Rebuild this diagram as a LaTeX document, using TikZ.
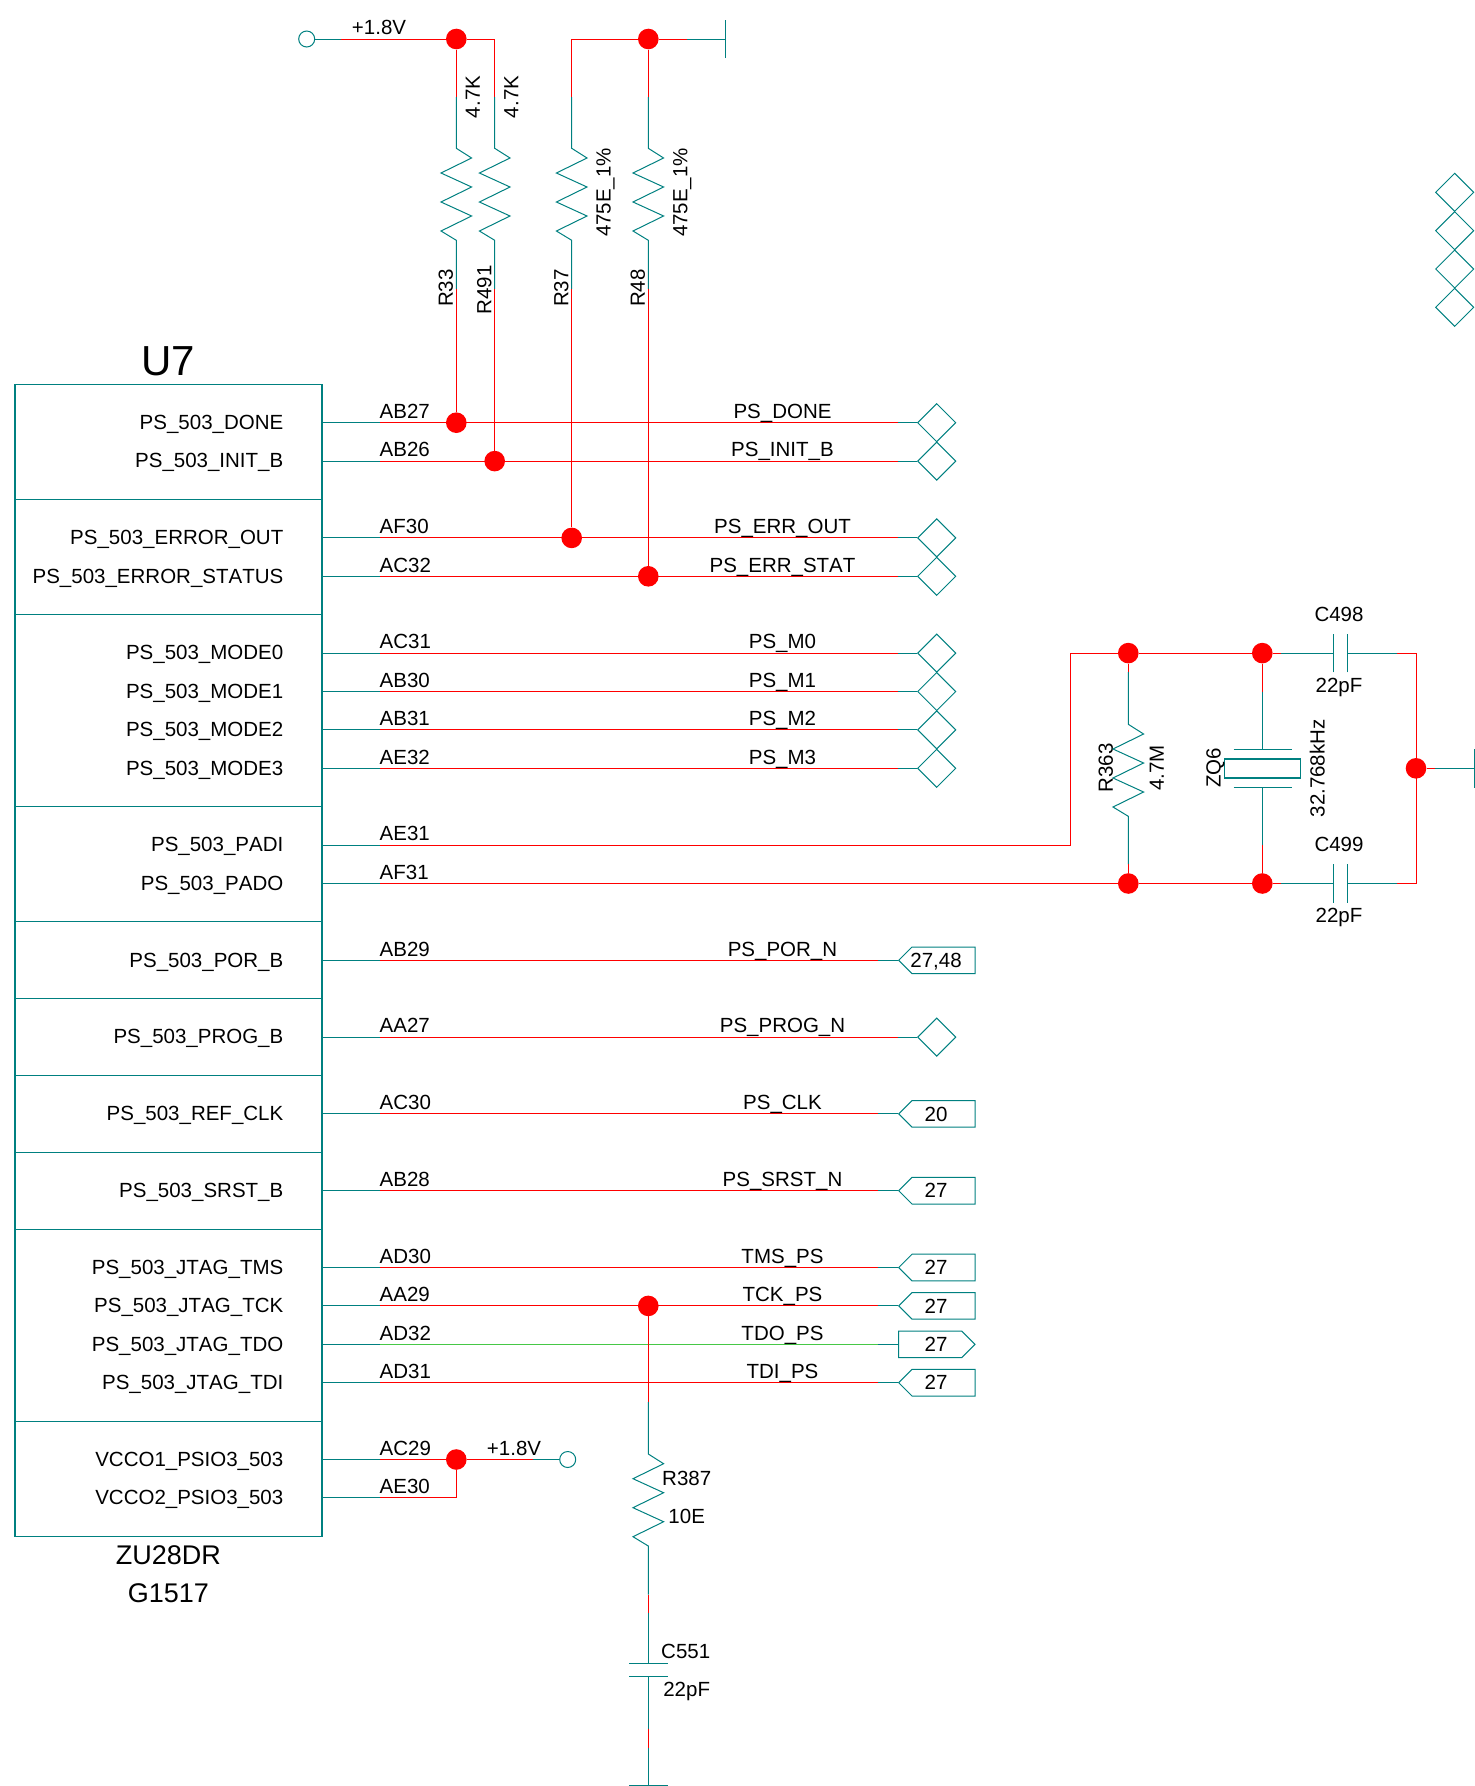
\documentclass[tikz,border=0pt]{standalone}
\usepackage{fontspec}
\setmainfont[Kerning=Off]{Liberation Sans}
\usetikzlibrary{shapes.geometric, shapes.symbols}

\definecolor{partteal}{RGB}{0,128,128}
\definecolor{netgreen}{RGB}{70,200,70}

\tikzset{
    partwire/.style={color=partteal, line width=1pt},
    netwire/.style={color=red, line width=1pt},
    dot/.style={circle, fill=red, minimum size=20.6pt, inner sep=0pt},
    ring/.style={circle, draw=partteal, line width=1pt, minimum size=16pt, inner sep=0pt},
    txt/.style={inner sep=0pt, text height=14.5pt, text depth=0pt},
    vtxt/.style={txt, rotate=90},
    portdia/.style={diamond, draw=partteal, line width=1pt, aspect=1, minimum size=38.4pt, inner sep=0pt},
    portin/.style={signal, signal to=west, signal from=nowhere, draw=partteal, line width=1pt, anchor=west,
        minimum width=76.5pt, minimum height=26.6pt, inner sep=0pt},
    portout/.style={signal, signal to=east, signal from=nowhere, draw=partteal, line width=1pt, anchor=west,
        minimum width=76.5pt, minimum height=26.6pt, inner sep=0pt},
    zigv/.style={insert path={-- ++(15.3,9.7) -- ++(-30.6,15) -- ++(30.6,14) -- ++(-30.6,15) -- ++(30.6,14) -- ++(-30.6,15) -- ++(15.3,9.3)}},
}

\begin{document}
\begin{tikzpicture}[x=1pt, y=-1pt, font=\fontsize{20.5}{24}\selectfont]
    \useasboundingbox (0,0) rectangle (1475,1786);

    % rows of the chip and the columns the wires change colour at
    \foreach \k in {0,...,28}
        \coordinate (row\k) at (0,{422.7+38.4*\k});
    \coordinate (padx) at (380,0);
    \coordinate (padtxt) at (379.5,0);
    \coordinate (dianet) at (898,0);
    \coordinate (dialeg) at (917,0);
    \coordinate (portnet) at (878,0);
    \coordinate (porttip) at (898,0);
    \coordinate (netname) at (782.5,0);

    % chip
    \node[draw=partteal, line width=1.2pt, minimum width=307pt, minimum height=1152pt, inner sep=0pt] (u7) at (168.5,960.3) {};
    \node[font=\fontsize{42}{48}\selectfont, inner sep=0pt] (u7name) at (168.3,361) {U7};
    \node[font=\fontsize{27}{32}\selectfont, inner sep=0pt] (u7part) at (168.3,1555) {ZU28DR};
    \node[font=\fontsize{27}{32}\selectfont, inner sep=0pt] (u7pack) at (168.3,1592.7) {G1517};
    \foreach \k in {2,5,10,13,15,17,19,21,26}
        \draw[partwire] (u7.west |- row\k) -- (u7.east |- row\k);

    \foreach \k/\pin/\pad in {0/PS\_503\_DONE/AB27, 1/PS\_503\_INIT\_B/AB26, 3/PS\_503\_ERROR\_OUT/AF30,
        4/PS\_503\_ERROR\_STATUS/AC32, 6/PS\_503\_MODE0/AC31, 7/PS\_503\_MODE1/AB30, 8/PS\_503\_MODE2/AB31,
        9/PS\_503\_MODE3/AE32, 11/PS\_503\_PADI/AE31, 12/PS\_503\_PADO/AF31, 14/PS\_503\_POR\_B/AB29,
        16/PS\_503\_PROG\_B/AA27, 18/PS\_503\_REF\_CLK/AC30, 20/PS\_503\_SRST\_B/AB28, 22/PS\_503\_JTAG\_TMS/AD30,
        23/PS\_503\_JTAG\_TCK/AA29, 24/PS\_503\_JTAG\_TDO/AD32, 25/PS\_503\_JTAG\_TDI/AD31,
        27/VCCO1\_PSIO3\_503/AC29, 28/VCCO2\_PSIO3\_503/AE30} {
        \draw[partwire] (u7.east |- row\k) -- (padx |- row\k);
        \node[txt, anchor=east] (pin\k) at ([yshift=0.5pt]283.5,0 |- row\k) {\pin};
        \node[txt, anchor=west] (pad\k) at ([yshift=11.5pt]padtxt |- row\k) {\pad};
    }

    % nets ending in a diamond
    \foreach \k/\net in {0/PS\_DONE, 1/PS\_INIT\_B, 3/PS\_ERR\_OUT, 4/PS\_ERR\_STAT, 6/PS\_M0, 7/PS\_M1,
        8/PS\_M2, 9/PS\_M3, 16/PS\_PROG\_N} {
        \node[portdia, anchor=west] (port\k) at (dialeg |- row\k) {};
        \draw[netwire] (padx |- row\k) -- (dianet |- row\k);
        \draw[partwire] (dianet |- row\k) -- (port\k.west);
        \node[txt] (net\k) at ([yshift=11.5pt]netname |- row\k) {\net};
    }

    % nets ending in a port
    \foreach \k/\net/\sheet in {14/PS\_POR\_N/{27,48}, 18/PS\_CLK/20, 20/PS\_SRST\_N/27, 22/TMS\_PS/27, 23/TCK\_PS/27, 25/TDI\_PS/27} {
        \node[portin] (port\k) at (porttip |- row\k) {};
        \node[txt] (sheet\k) at (936,0 |- row\k) {\sheet};
        \draw[netwire] (padx |- row\k) -- (portnet |- row\k);
        \draw[partwire] (portnet |- row\k) -- (port\k.west);
        \node[txt] (net\k) at ([yshift=11.5pt]netname |- row\k) {\net};
    }
    \node[portout] (port24) at (porttip |- row24) {};
    \node[txt] (sheet24) at (936,0 |- row24) {27};
    \draw[color=netgreen, line width=1pt] (padx |- row24) -- (portnet |- row24);
    \draw[partwire] (portnet |- row24) -- (port24.west);
    \node[txt] (net24) at ([yshift=11.5pt]netname |- row24) {TDO\_PS};

    % spare diamonds
    \foreach \y [count=\i] in {192.3,230.7,269,307.3}
        \node[portdia] (spare\i) at (1454.7,\y) {};

    % +1.8V pull ups
    \node[ring] (vcctop) at (306.7,39) {};
    \node[txt] (vcctoplabel) at (379,27) {+1.8V};
    \node[dot] (jvcc) at (456.3,39) {};
    \coordinate (railcorner) at (494.7,39);
    \coordinate (railred) at (341,39);
    \draw[partwire] (vcctop) -- (railred);
    \draw[netwire] (railred) -- (jvcc) -- (railcorner);

    % ground side pull downs
    \coordinate (gndcorner) at (571.7,39);
    \node[dot] (jgnd) at (648.3,39) {};
    \coordinate (gndred) at (686.7,39);
    \coordinate (gndbar) at (725,39);
    \draw[netwire] (gndcorner) -- (jgnd) -- (gndred);
    \draw[partwire] (gndred) -- (gndbar);
    \draw[partwire] ([yshift=-19.2pt]gndbar) -- ([yshift=19.2pt]gndbar);

    \foreach \name/\top/\k/\lift in {R33/jvcc/0/249, R491/railcorner/1/251, R37/gndcorner/3/249, R48/jgnd/4/249} {
        \node[dot] (j\name) at (\top |- row\k) {};
        \coordinate (\name a) at ([yshift=-58pt]\top);
        \coordinate (\name b) at ([yshift=-250pt]\top);
        \draw[netwire] (\top) -- (\name a);
        \draw[partwire] (\name a) -- ++(0,51.3) [zigv] -- (\name b);
        \draw[netwire] (\name b) -- (j\name);
        \node[vtxt] (name\name) at ([xshift=-10.7pt,yshift=-\lift pt]\top) {\name};
    }
    \node[vtxt] (valR33) at (472.7,97) {4.7K};
    \node[vtxt] (valR491) at (511,97) {4.7K};
    \node[vtxt] (valR37) at (603.3,192.5) {475E\_1\%};
    \node[vtxt] (valR48) at (680,192.5) {475E\_1\%};

    % crystal
    \node[dot] (jxa) at (1128.3,0 |- row6) {};
    \node[dot] (jxb) at (1262.3,0 |- row6) {};
    \node[dot] (jxc) at (1128.3,0 |- row12) {};
    \node[dot] (jxd) at (1262.3,0 |- row12) {};
    \node[dot] (jxgnd) at (1416,0 |- row9) {};
    \coordinate (padicorner) at (1070.7,0 |- row11);
    \draw[netwire] (padx |- row11) -- (padicorner) -- (padicorner |- row6) -- (jxa) -- (jxb);
    \draw[netwire] (padx |- row12) -- (jxc) -- (jxd);

    % R363
    \node[vtxt] (nameR363) at (1105.7,768) {R363};
    \node[vtxt] (valR363) at (1156.7,768) {4.7M};
    \draw[netwire] (jxa) -- ++(0,19);
    \draw[partwire] (1128.3,672) -- (1128.3,724.3) [zigv] -- (1128.3,864.3);
    \draw[netwire] (1128.3,864.3) -- (jxc);

    % ZQ6
    \node[draw=partteal, line width=1.2pt, minimum width=76.4pt, minimum height=19pt, inner sep=0pt] (zq6) at (1262.5,768.5) {};
    \node[vtxt] (nameZQ6) at (1213.3,768) {ZQ6};
    \node[vtxt] (valZQ6) at (1317.3,768.3) {32.768kHz};
    \draw[partwire] (1233.7,749) -- (1291.7,749);
    \draw[partwire] (1233.7,787.7) -- (1291.7,787.7);
    \draw[netwire] (jxb) -- (1262.3,691.7);
    \draw[partwire] (1262.3,691.7) -- (1262.3,749);
    \draw[partwire] (1262.3,787.7) -- (1262.3,845.3);
    \draw[netwire] (1262.3,845.3) -- (jxd);

    % C498 and C499
    \foreach \name/\k/\from/\ya/\yb in {C498/6/jxb/614/685.5, C499/12/jxd/844/915} {
        \coordinate (\name a) at (1281,0 |- row\k);
        \coordinate (\name l) at (1333.7,0 |- row\k);
        \coordinate (\name r) at (1347,0 |- row\k);
        \coordinate (\name b) at (1397,0 |- row\k);
        \coordinate (\name c) at (1416,0 |- row\k);
        \draw[netwire] (\from) -- (\name a);
        \draw[partwire] (\name a) -- (\name l);
        \draw[partwire] ([yshift=-19.2pt]\name l) -- ([yshift=19.2pt]\name l);
        \draw[partwire] ([yshift=-19.2pt]\name r) -- ([yshift=19.2pt]\name r);
        \draw[partwire] (\name r) -- (\name b);
        \draw[netwire] (\name b) -- (\name c);
        \node[txt] (name\name) at (1339,\ya) {\name};
        \node[txt] (val\name) at (1339,\yb) {22pF};
    }
    \draw[netwire] (C498c) -- (C499c);
    \coordinate (xgndred) at (1435,0 |- row9);
    \coordinate (xgndbar) at (1474,0 |- row9);
    \draw[netwire] (jxgnd) -- (xgndred);
    \draw[partwire] (xgndred) -- (xgndbar);
    \draw[partwire] ([yshift=-19.2pt]xgndbar) -- ([yshift=19.2pt]xgndbar);

    % R387 and C551
    \node[dot] (jtck) at (648.3,0 |- row23) {};
    \draw[netwire] (jtck) -- (648.3,1402);
    \draw[partwire] (648.3,1402) -- (648.3,1454) [zigv] -- (648.3,1594.7);
    \draw[netwire] (648.3,1594.7) -- (648.3,1612.8);
    \draw[partwire] (648.3,1612.8) -- (648.3,1663);
    \draw[partwire] (629,1663) -- (667.6,1663);
    \draw[partwire] (629,1676) -- (667.6,1676);
    \draw[partwire] (648.3,1676) -- (648.3,1728.5);
    \draw[netwire] (648.3,1728.5) -- (648.3,1748);
    \draw[partwire] (648.3,1748) -- (648.3,1785.3);
    \draw[partwire] (629,1785.3) -- (667.6,1785.3);
    \node[txt] (nameR387) at (686.7,1478) {R387};
    \node[txt] (valR387) at (686.7,1516.3) {10E};
    \node[txt] (nameC551) at (685.7,1651) {C551};
    \node[txt] (valC551) at (686.7,1689.5) {22pF};

    % +1.8V on the power pins
    \node[dot] (jpwr) at (456.3,0 |- row27) {};
    \node[ring] (vccbot) at (567.7,0 |- row27) {};
    \node[txt] (vccbotlabel) at (514,1448) {+1.8V};
    \coordinate (pwrred) at (533,0 |- row27);
    \draw[netwire] (padx |- row27) -- (jpwr) -- (pwrred);
    \draw[partwire] (pwrred) -- (vccbot);
    \draw[netwire] (padx |- row28) -- (jpwr |- row28) -- (jpwr);
\end{tikzpicture}
\end{document}
